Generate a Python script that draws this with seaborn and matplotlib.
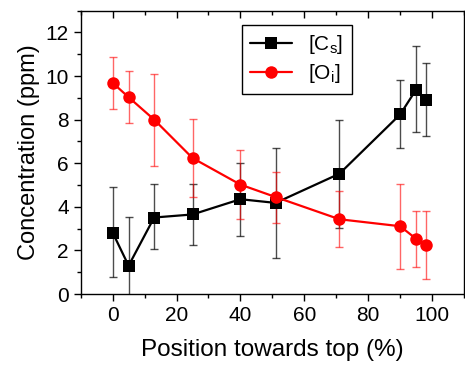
import matplotlib
matplotlib.use('Agg')
import matplotlib.pyplot as plt
from matplotlib.ticker import MultipleLocator
import seaborn as sns
import pandas as pd

# values
position = [0, 5, 13, 25, 40, 51, 71, 90, 95, 98]
cs = [2.82, 1.30, 3.51, 3.65, 4.35, 4.18, 5.52, 8.24, 9.38, 8.91]
cs_hi = [4.92, 3.54, 5.07, 5.07, 6.03, 6.71, 8.00, 9.83, 11.36, 10.59]
cs_lo = [0.79, -0.94, 2.05, 2.26, 2.65, 1.65, 3.05, 6.68, 7.43, 7.23]
oi = [9.69, 9.03, 8.00, 6.24, 5.02, 4.45, 3.43, 3.11, 2.53, 2.26]
oi_hi = [10.86, 10.21, 10.10, 8.04, 6.59, 5.61, 4.73, 5.03, 3.81, 3.81]
oi_lo = [8.50, 7.86, 5.89, 4.43, 3.43, 3.26, 2.14, 1.16, 1.22, 0.67]

sns.set_style('ticks')
plt.rcParams['font.family'] = ['Liberation Sans', 'DejaVu Sans']
plt.rcParams['mathtext.fontset'] = 'custom'
plt.rcParams['mathtext.rm'] = 'Liberation Sans'
plt.rcParams['mathtext.it'] = 'Liberation Sans'
plt.rcParams['text.color'] = 'black'
plt.rcParams['axes.labelcolor'] = 'black'
plt.rcParams['xtick.color'] = 'black'
plt.rcParams['ytick.color'] = 'black'

df = pd.DataFrame({'pos': position, 'cs': cs, 'oi': oi})

fig = plt.figure(figsize=(4.65, 3.65), dpi=100)
ax = fig.add_axes([0.1735, 0.1945, 0.998 - 0.1735, 0.9707 - 0.1945])

# error bars first so the lines sit on top
cs_err = [[c - l for c, l in zip(cs, cs_lo)], [h - c for c, h in zip(cs, cs_hi)]]
oi_err = [[o - l for o, l in zip(oi, oi_lo)], [h - o for o, h in zip(oi, oi_hi)]]
ax.errorbar(position, cs, yerr=cs_err, fmt='none', ecolor='black', alpha=0.7,
            elinewidth=1, capsize=3, capthick=1)
ax.errorbar(position, oi, yerr=oi_err, fmt='none', ecolor='red', alpha=0.6,
            elinewidth=1, capsize=3, capthick=1)

sns.lineplot(data=df, x='pos', y='cs', ax=ax, color='black', marker='s',
             markersize=8, markeredgewidth=0, linewidth=1.6, label='[C$_\\mathrm{s}$]')
sns.lineplot(data=df, x='pos', y='oi', ax=ax, color='red', marker='o',
             markersize=9, markeredgewidth=0, linewidth=1.6, label='[O$_\\mathrm{i}$]')

ax.set_xlim(-10, 110)
ax.set_ylim(0, 13)
ax.xaxis.set_major_locator(MultipleLocator(20))
ax.xaxis.set_minor_locator(MultipleLocator(10))
ax.yaxis.set_major_locator(MultipleLocator(2))
ax.yaxis.set_minor_locator(MultipleLocator(1))
ax.set_xticks([0, 20, 40, 60, 80, 100])
ax.tick_params(which='both', direction='out', width=1, labelsize=15)
ax.tick_params(which='major', length=5)
ax.tick_params(which='minor', length=3)
for s in ax.spines.values():
    s.set_linewidth(1)
    s.set_color('black')

# top axis with inward ticks, no labels
top = ax.secondary_xaxis('top')
top.xaxis.set_major_locator(MultipleLocator(20))
top.xaxis.set_minor_locator(MultipleLocator(10))
top.tick_params(which='both', direction='in', labeltop=False, width=1, color='black')
top.tick_params(which='major', length=5)
top.tick_params(which='minor', length=3)
top.spines['top'].set_visible(False)

ax.set_xlabel('Position towards top (%)', fontsize=17.5, labelpad=10)
ax.set_ylabel('Concentration (ppm)', fontsize=17)

leg = ax.legend(loc='upper left', bbox_to_anchor=(0.42, 0.95), borderaxespad=0,
                fontsize=15, fancybox=False, framealpha=1, edgecolor='black',
                handlelength=2.0, labelspacing=0.3)
leg.get_frame().set_linewidth(1)

fig.savefig('out.png', dpi=100)
